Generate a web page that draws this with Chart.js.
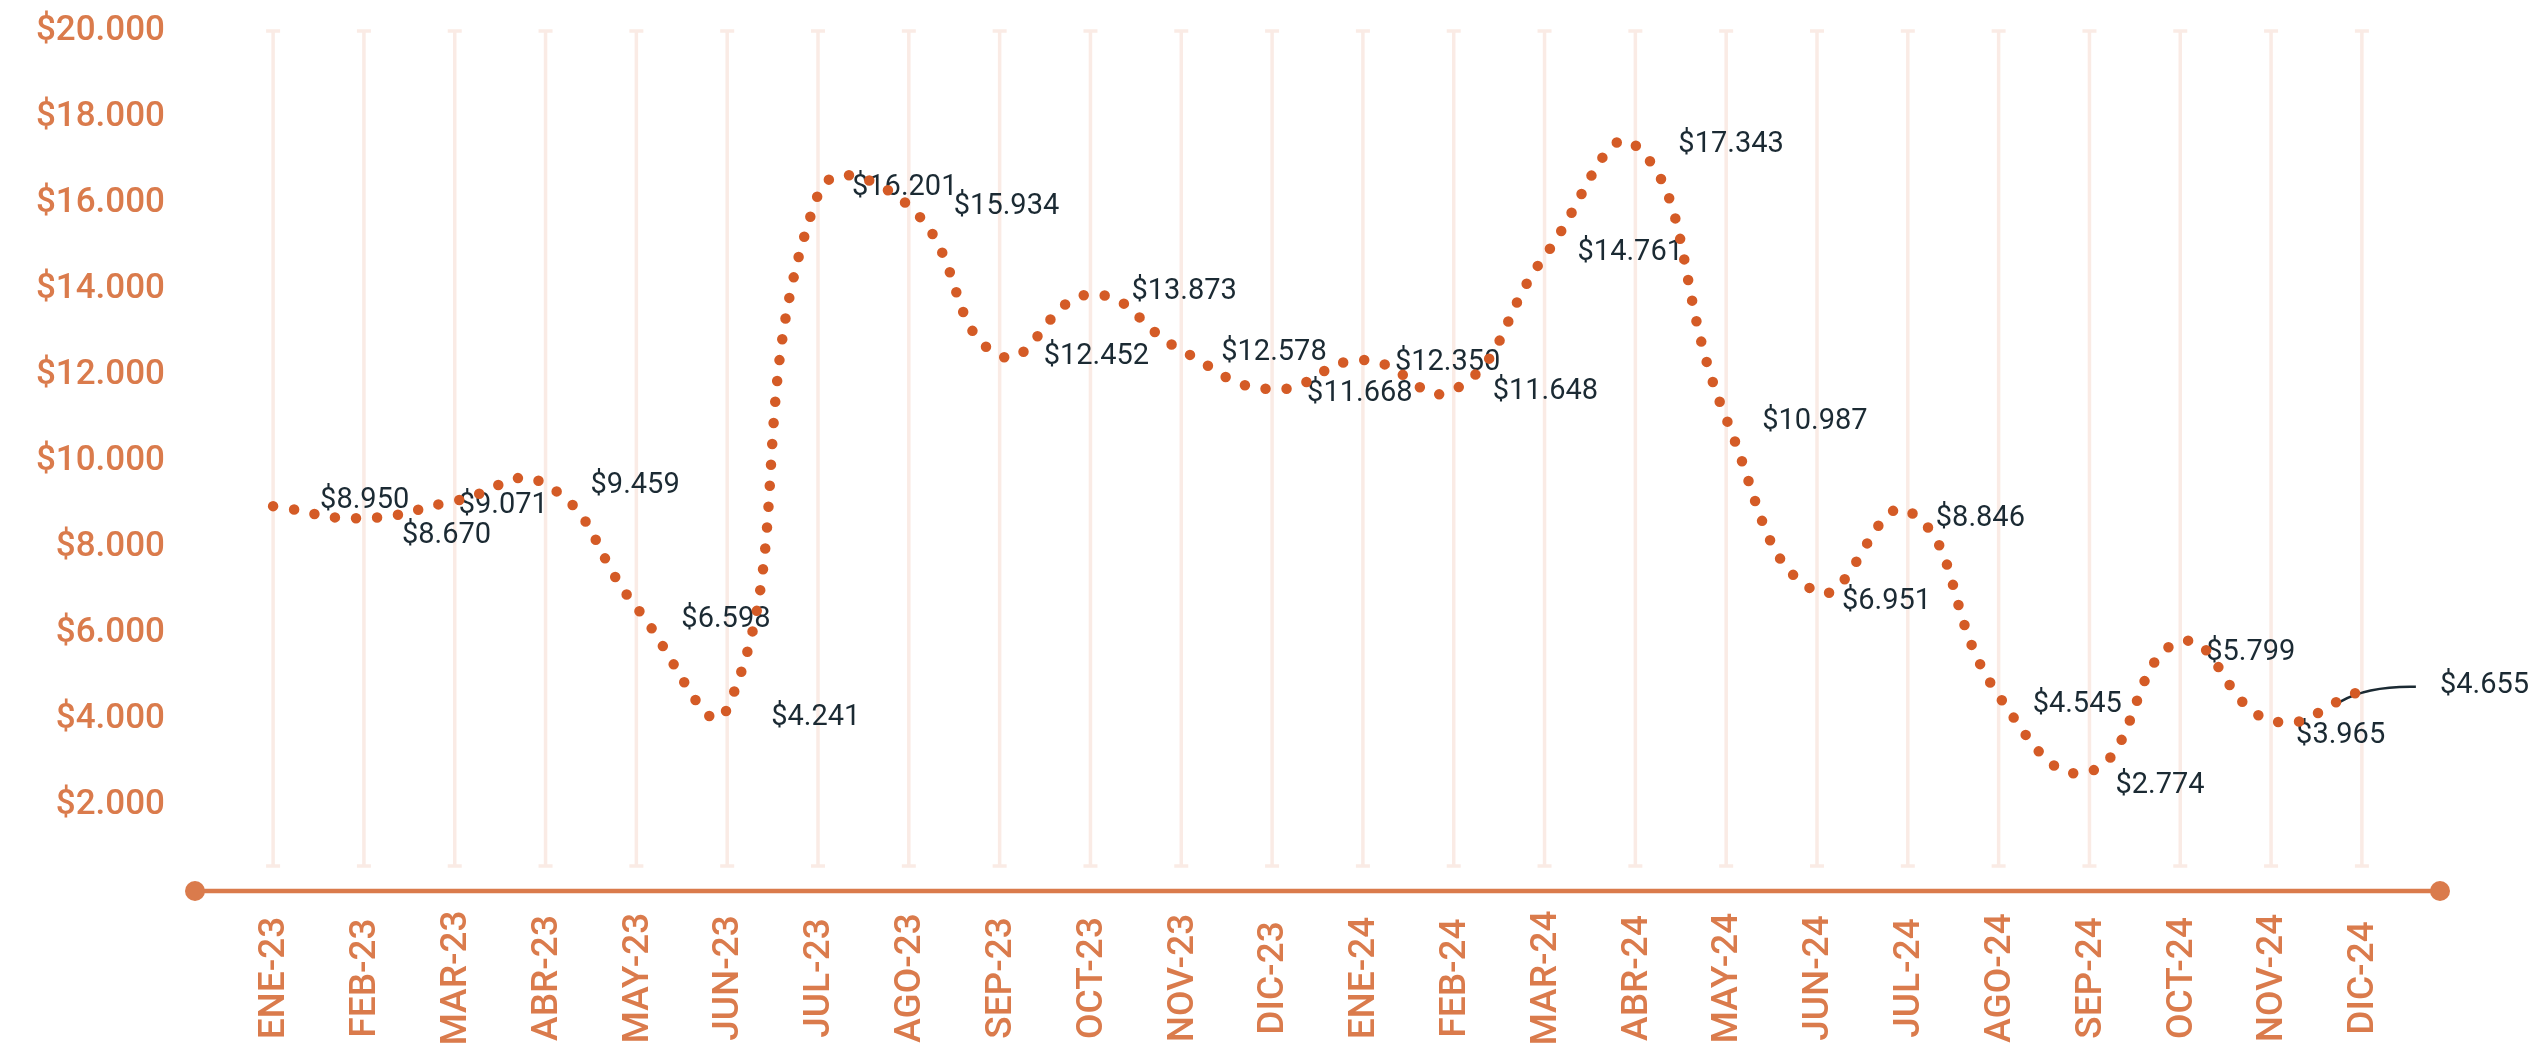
<!DOCTYPE html>
<html>
<head>
<meta charset="utf-8">
<title>Precio mensual</title>
<script src="https://cdn.jsdelivr.net/npm/chart.js@4.4.1/dist/chart.umd.min.js"></script>
<style>
  html, body { margin: 0; padding: 0; background: #ffffff; overflow: hidden; }
  #wrap { width: 2535px; height: 1044px; }
</style>
</head>
<body>
<div id="wrap"><canvas id="chart" width="2535" height="1044"></canvas></div>
<script>
// Months on the category axis
const months = [
  'ENE-23', 'FEB-23', 'MAR-23', 'ABR-23', 'MAY-23', 'JUN-23',
  'JUL-23', 'AGO-23', 'SEP-23', 'OCT-23', 'NOV-23', 'DIC-23',
  'ENE-24', 'FEB-24', 'MAR-24', 'ABR-24', 'MAY-24', 'JUN-24',
  'JUL-24', 'AGO-24', 'SEP-24', 'OCT-24', 'NOV-24', 'DIC-24'
];

// Monthly price (pesos)
const prices = [
  8950, 8670, 9071, 9459, 6598, 4241,
  16201, 15934, 12452, 13873, 12578, 11668,
  12350, 11648, 14761, 17343, 10987, 6951,
  8846, 4545, 2774, 5799, 3965, 4655
];

// Value axis range and step
const yMin = 0;
const yMax = 20000;
const yStep = 2000;

// Where each value label sits relative to its point [dx, dy] in px
const labelNudge = [
  [47, -5], [38, 18], [4, 5], [45, 1], [45, 12], [44, 9],
  [34, -7], [45, 1], [44, 1], [41, -3], [40, 3], [35, 4],
  [32, 3], [39, 2], [33, -4], [43, -1], [36, 3], [25, 10],
  [28, 8], [34, 9], [26, 14], [26, 11], [25, 15], [78, -5]
];

const ORANGE = '#DA7B4C';
const DOTS = '#D45B26';
const INK = '#1B2A33';
const GRID = '#FAEBE5';

function money(v) {
  return '$' + String(Math.round(v)).replace(/\B(?=(\d{3})+(?!\d))/g, '.');
}

// Light vertical guides at every month, with small end caps
const monthGuides = {
  id: 'monthGuides',
  beforeDatasetsDraw(chart) {
    const { ctx, scales: { x, y } } = chart;
    const top = y.getPixelForValue(yMax);
    const bottom = y.getPixelForValue(yMin) - 25;
    ctx.save();
    ctx.strokeStyle = GRID;
    ctx.lineWidth = 3.5;
    x.ticks.forEach(t => {
      const px = x.getPixelForValue(t.value);
      ctx.beginPath();
      ctx.moveTo(px, top);
      ctx.lineTo(px, bottom);
      ctx.moveTo(px - 7, top);
      ctx.lineTo(px + 7, top);
      ctx.moveTo(px - 7, bottom);
      ctx.lineTo(px + 7, bottom);
      ctx.stroke();
    });
    ctx.restore();
  }
};

// Baseline with round terminals
const baseAxis = {
  id: 'baseAxis',
  beforeDatasetsDraw(chart) {
    const { ctx, chartArea, scales: { y } } = chart;
    const py = y.getPixelForValue(yMin);
    ctx.save();
    ctx.strokeStyle = ORANGE;
    ctx.fillStyle = ORANGE;
    ctx.lineWidth = 4.5;
    ctx.beginPath();
    ctx.moveTo(chartArea.left, py);
    ctx.lineTo(chartArea.right, py);
    ctx.stroke();
    [chartArea.left, chartArea.right].forEach(px => {
      ctx.beginPath();
      ctx.arc(px, py, 10, 0, Math.PI * 2);
      ctx.fill();
    });
    ctx.restore();
  }
};

// Vertical month names, centred in the band under the baseline
const monthNames = {
  id: 'monthNames',
  afterDraw(chart) {
    const { ctx, scales: { x } } = chart;
    const cy = x.top + 87;
    ctx.save();
    ctx.fillStyle = ORANGE;
    ctx.font = '500 37px Roboto, "Noto Sans", sans-serif';
    ctx.textAlign = 'center';
    ctx.textBaseline = 'middle';
    x.ticks.forEach(t => {
      const px = x.getPixelForValue(t.value) + 2;
      ctx.save();
      ctx.translate(px, cy);
      ctx.rotate(-Math.PI / 2);
      ctx.fillText(months[t.value], 0, 0);
      ctx.restore();
    });
    ctx.restore();
  }
};

// Value labels next to each point; the last one gets a leader line
const valueLabels = {
  id: 'valueLabels',
  beforeDatasetsDraw(chart) {
    const { ctx } = chart;
    const meta = chart.getDatasetMeta(0);
    ctx.save();
    ctx.font = '400 29px Roboto, "Noto Sans", sans-serif';
    ctx.fillStyle = INK;
    ctx.textAlign = 'left';
    ctx.textBaseline = 'middle';
    meta.data.forEach((pt, i) => {
      const [dx, dy] = labelNudge[i];
      ctx.fillText(money(prices[i]), pt.x + dx, pt.y + dy);
    });
    const last = meta.data[meta.data.length - 1];
    ctx.strokeStyle = INK;
    ctx.lineWidth = 2.5;
    ctx.beginPath();
    ctx.moveTo(last.x - 22, last.y + 11);
    ctx.quadraticCurveTo(last.x + 6, last.y - 5, last.x + 54, last.y - 4);
    ctx.stroke();
    ctx.restore();
  }
};

new Chart(document.getElementById('chart'), {
  type: 'line',
  data: {
    datasets: [{
      data: prices.map((v, i) => ({ x: i, y: v })),
      borderColor: DOTS,
      borderWidth: 10.5,
      borderDash: [0, 21],
      borderCapStyle: 'round',
      borderJoinStyle: 'round',
      tension: 0.48,
      fill: false,
      pointRadius: 0,
      pointHoverRadius: 0
    }]
  },
  options: {
    responsive: false,
    animation: false,
    devicePixelRatio: 1,
    events: [],
    layout: { padding: { top: 31, right: 95, bottom: 0, left: 0 } },
    plugins: { legend: { display: false }, tooltip: { enabled: false } },
    scales: {
      x: {
        type: 'linear',
        min: -0.86,
        max: 23.86,
        grid: { display: false },
        border: { display: false },
        afterBuildTicks: s => { s.ticks = months.map((m, i) => ({ value: i })); },
        afterFit: s => { s.height = 153; },
        ticks: { display: false }
      },
      y: {
        min: yMin,
        max: yMax,
        grid: { display: false },
        border: { display: false },
        afterFit: s => { s.width = 195; s.paddingTop = 0; s.paddingBottom = 0; },
        ticks: {
          stepSize: yStep,
          padding: 22,
          color: ORANGE,
          font: { family: 'Roboto, sans-serif', weight: '500', size: 35 },
          callback: v => (v === 0 ? '' : money(v))
        }
      }
    }
  },
  plugins: [monthGuides, baseAxis, valueLabels, monthNames]
});
</script>
</body>
</html>
